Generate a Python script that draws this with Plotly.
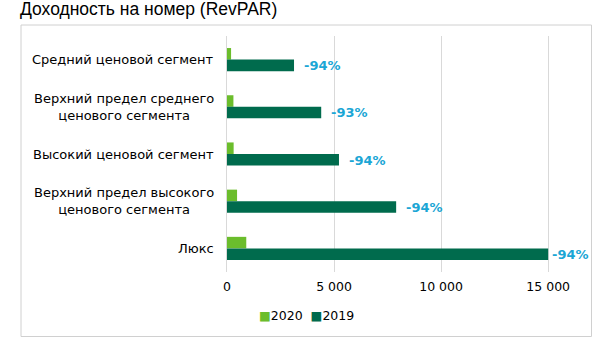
import plotly.graph_objects as go

# RevPAR by hotel price segment, 2019 vs 2020
categories = [
    "Средний ценовой сегмент",
    "Верхний предел среднего<br>ценового сегмента",
    "Высокий ценовой сегмент",
    "Верхний предел высокого<br>ценового сегмента",
    "Люкс",
]
revpar_2019 = [3130, 4400, 5230, 7900, 15000]
revpar_2020 = [190, 300, 310, 470, 900]
tick_values = [0, 5000, 10000, 15000]
tick_labels = ["0", "5 000", "10 000", "15 000"]
label_shift = [8, 8, 8, 8, 2]

LIGHT = "#6BBD2C"
DARK = "#006B4D"
BLUE = "#1BA6D5"
FONT = "DejaVu Sans"

W, H = 612, 338
L, R, T, B = 227, 21, 36, 66
PW, PH = W - L - R, H - T - B


def px_x(px):
    """Horizontal pixel position -> plot-area paper fraction."""
    return (px - L) / PW


def px_y(py):
    """Vertical pixel position (from top) -> plot-area paper fraction."""
    return (T + PH - py) / PH


fig = go.Figure()
fig.add_trace(go.Bar(
    y=categories, x=revpar_2020, name="2020", orientation="h",
    marker=dict(color=LIGHT, line=dict(width=0)),
))
fig.add_trace(go.Bar(
    y=categories, x=revpar_2019, name="2019", orientation="h",
    marker=dict(color=DARK, line=dict(width=0)),
))

annotations = []
# percent change labels next to the 2019 bars
for i, (c, a, b) in enumerate(zip(categories, revpar_2019, revpar_2020)):
    pct = round((b - a) / a * 100)
    annotations.append(dict(
        x=a, y=c, xref="x", yref="y", text=f"{pct}%", showarrow=False,
        xanchor="left", yanchor="middle", xshift=label_shift[i], yshift=-6,
        font=dict(family=FONT, size=13, color=BLUE, weight="bold"),
    ))
# category labels, centred line by line
for c in categories:
    annotations.append(dict(
        x=0, y=c, xref="paper", yref="y", text=c, showarrow=False,
        xanchor="right", yanchor="middle", xshift=-11, align="center",
        font=dict(family=FONT, size=13, color="#000000"),
    ))
# compact legend: colour square right beside each year
legend_text = "&nbsp;&nbsp;".join(
    f"<span style='color:{col}'>■</span>{tr.name}"
    for tr, col in zip(fig.data, [LIGHT, DARK])
)
annotations.append(dict(
    x=px_x(306), y=px_y(315), xref="paper", yref="paper", text=legend_text,
    showarrow=False, xanchor="center", yanchor="middle",
    font=dict(family=FONT, size=12.5, color="#000000"),
))

fig.update_layout(
    width=W, height=H,
    margin=dict(l=L, r=R, t=T, b=B, autoexpand=False),
    paper_bgcolor="white", plot_bgcolor="white",
    barmode="group", bargap=0.51, bargroupgap=0,
    showlegend=False,
    title=dict(
        text="Доходность на номер (RevPAR)", x=20 / W, xanchor="left",
        y=1 - 3 / H, yanchor="top", yref="container",
        font=dict(family="Liberation Sans", size=17.5, color="#000000"),
    ),
    xaxis=dict(
        range=[0, 17000], tickvals=tick_values, ticktext=tick_labels,
        showgrid=True, gridcolor="#D9D9D9", gridwidth=1,
        zeroline=False, showline=False, ticks="", automargin=False,
        tickfont=dict(family=FONT, size=12.5, color="#000000"),
        ticklabelstandoff=5,
    ),
    yaxis=dict(
        autorange="reversed", showticklabels=False, showgrid=False, automargin=False,
        zeroline=False, showline=True, linecolor="#D9D9D9", linewidth=1, ticks="",
    ),
    annotations=annotations,
)

# outer frame
fig.add_shape(
    type="rect", xref="paper", yref="paper",
    x0=px_x(21), x1=px_x(591.5), y0=px_y(336.5), y1=px_y(25),
    line=dict(color="#D0D0D0", width=1), fillcolor="rgba(0,0,0,0)", layer="below",
)

fig.write_html("out.html")
